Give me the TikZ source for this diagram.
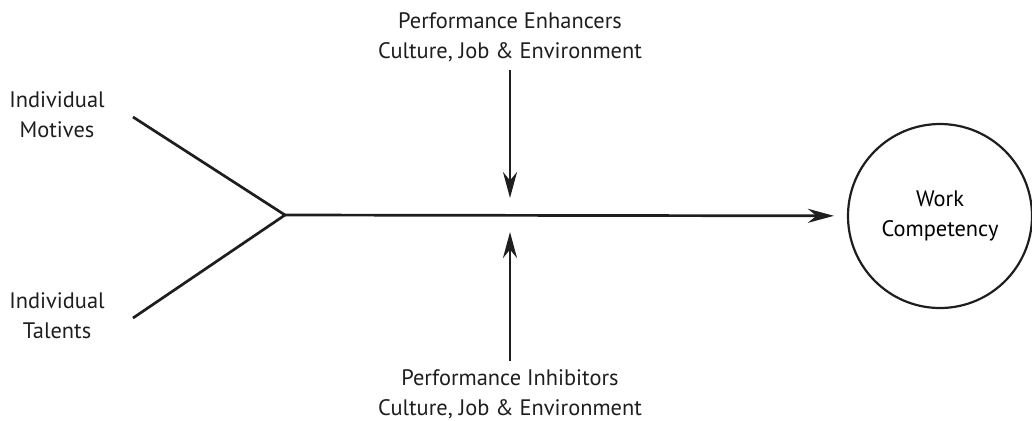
\documentclass[tikz,border=0pt]{standalone}
\usepackage{fontspec}
\setmainfont{PT Sans}
\usetikzlibrary{arrows.meta,positioning}
\definecolor{inkblack}{RGB}{30,30,30}
\tikzset{
    % Define standard node styles
    labeltext/.style={
        draw=none, fill=none, align=center, inner sep=0pt,
        font=\fontsize{11.2}{15}\selectfont, text=inkblack
    },
    outcomecircle/.style={
        circle, draw=inkblack, line width=1.1pt, minimum size=92pt,
        align=center, inner sep=0pt, font=\fontsize{11.2}{15}\selectfont
    },
    branch/.style={
        line width=1.35pt, color=inkblack
    },
    arrow/.style={
        -{Stealth[length=13pt,width=7pt]}, line width=1.35pt, color=inkblack
    }
}
\begin{document}
\begin{tikzpicture}[x=0.5pt,y=-0.5pt]
\useasboundingbox (0,0) rectangle (1032,420);

% Inputs
\node[labeltext] (motives) at (57,115) {Individual\\Motives};
\node[labeltext] (talents) at (57,316) {Individual\\Talents};
\coordinate (motives_end) at (133,117);
\coordinate (talents_end) at (133,318);
\coordinate (join) at (285,215);

% Outcome
\node[outcomecircle] (competency) at (940,216) {Work\\Competency};

% Moderators
\node[labeltext] (enhancers) at (510,37) {Performance Enhancers\\Culture, Job \& Environment};
\node[labeltext] (inhibitors) at (510,394) {Performance Inhibitors\\Culture, Job \& Environment};
\coordinate (enhancers_tip) at (510,198);
\coordinate (inhibitors_tip) at (510,232);

% Branches
\draw[branch] (motives_end) -- (join);
\draw[branch] (talents_end) -- (join);

% Main flow
\draw[arrow, shorten >=6.5pt] (join) -- (competency);

% Moderator arrows
\draw[arrow, shorten <=4pt] (enhancers) -- (enhancers_tip);
\draw[arrow, shorten <=4pt] (inhibitors) -- (inhibitors_tip);

\end{tikzpicture}
\end{document}
